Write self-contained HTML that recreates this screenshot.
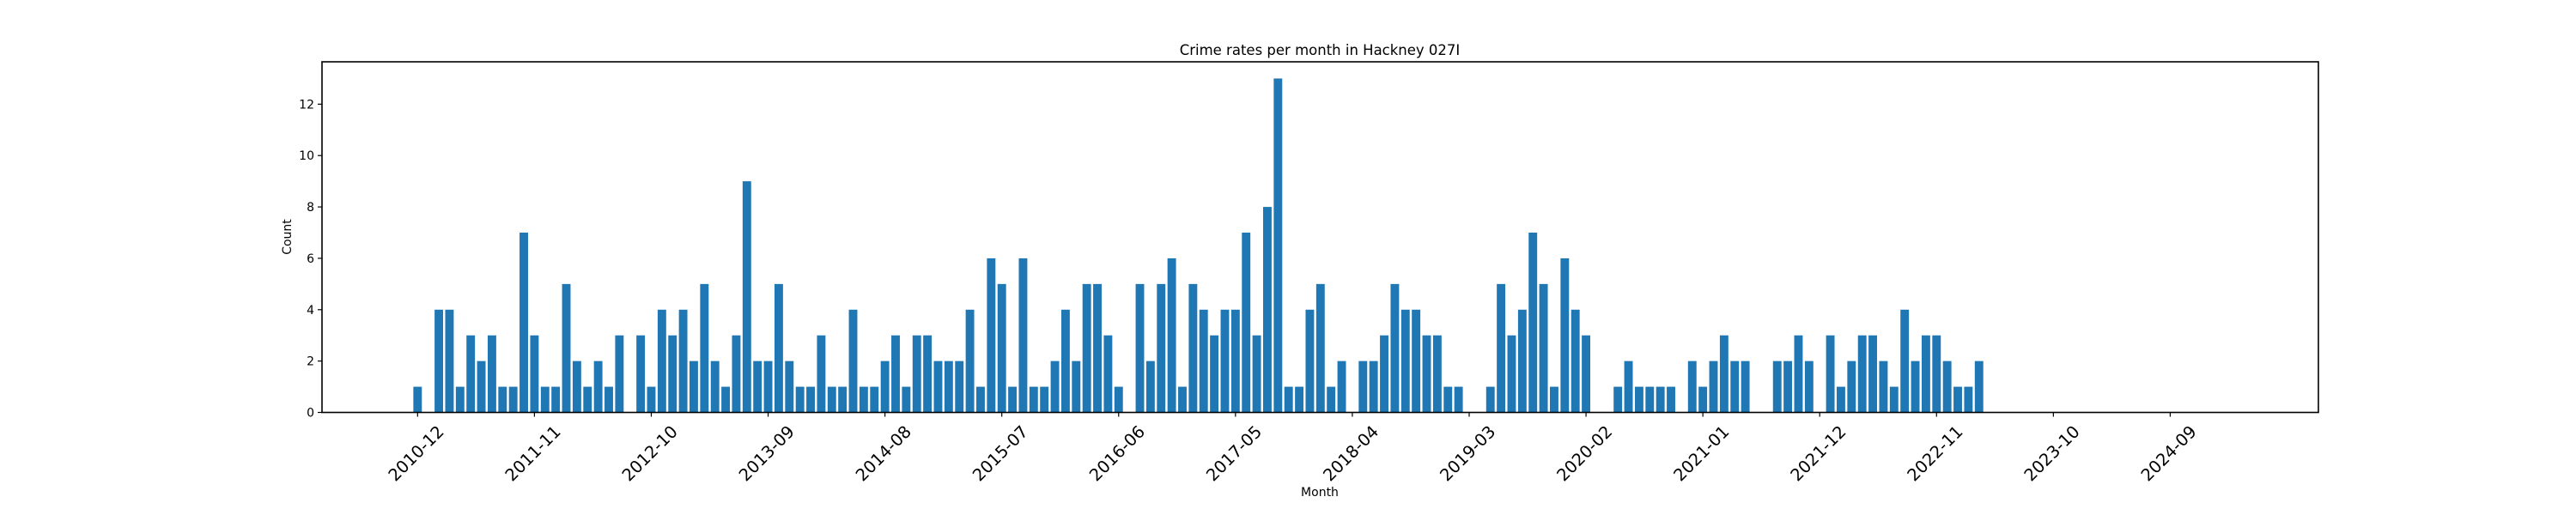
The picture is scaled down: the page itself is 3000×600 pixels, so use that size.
<!DOCTYPE html>
<html><head><meta charset="utf-8"><style>
html,body{margin:0;padding:0;background:#fff;}
svg{display:block;font-family:"DejaVu Sans","Liberation Sans",sans-serif;}
</style></head><body>
<svg id="chart" width="3000" height="600" viewBox="0 0 3000 600" xmlns="http://www.w3.org/2000/svg">
<rect width="3000" height="600" fill="#fff"/>
<text x="1537" y="64" font-size="16.5" text-anchor="middle" fill="#000">Crime rates per month in Hackney 027I</text>
<text x="1537" y="578" font-size="14" text-anchor="middle" fill="#000">Month</text>
<text x="0" y="0" font-size="14" text-anchor="middle" fill="#000" transform="translate(339,276) rotate(-90)">Count</text>
<g id="bars"></g>
<g id="axes"></g>
</svg>
<script>
// month index 0 = 2010-12
const counts = [1,0,4,4,1,3,2,3,1,1,7,3,1,1,5,2,1,2,1,3,0,3,1,4,3,4,2,5,2,1,3,9,2,2,5,2,1,1,3,1,1,4,1,1,2,3,1,3,3,2,2,2,4,1,6,5,1,6,1,1,2,4,2,5,5,3,1,0,5,2,5,6,1,5,4,3,4,4,7,3,8,13,1,1,4,5,1,2,0,2,2,3,5,4,4,3,3,1,1,0,0,1,5,3,4,7,5,1,6,4,3,0,0,1,2,1,1,1,1,0,2,1,2,3,2,2,0,0,2,2,3,2,0,3,1,2,3,3,2,1,4,2,3,3,2,1,1,2];
const tickLabels = ["2010-12","2011-11","2012-10","2013-09","2014-08","2015-07","2016-06","2017-05","2018-04","2019-03","2020-02","2021-01","2021-12","2022-11","2023-10","2024-09"];
const tickIndex = [0,11,22,33,44,55,66,77,88,99,110,121,132,143,154,165];
const yTicks = [0,2,4,6,8,10,12];

const NS = "http://www.w3.org/2000/svg";
const L = 375, R = 2700, T = 72, B = 480.5;
const xMin = -9.0, xMax = 178.95;
const yMax = 13.65;
function xScale(i){ return L + (i - xMin) / (xMax - xMin) * (R - L); }
function yScale(v){ return B - v / yMax * (B - T); }
const step = xScale(1) - xScale(0);
const barW = 0.8 * step;

const gb = document.getElementById('bars');
counts.forEach((v, i) => {
  if (v <= 0) return;
  const r = document.createElementNS(NS, 'rect');
  r.setAttribute('x', xScale(i) - barW / 2);
  r.setAttribute('y', yScale(v));
  r.setAttribute('width', barW);
  r.setAttribute('height', yScale(0) - yScale(v));
  r.setAttribute('fill', '#1f77b4');
  
  
  gb.appendChild(r);
});

const ga = document.getElementById('axes');
const frame = document.createElementNS(NS, 'rect');
frame.setAttribute('x', L); frame.setAttribute('y', T);
frame.setAttribute('width', R - L); frame.setAttribute('height', B - T);
frame.setAttribute('fill', 'none'); frame.setAttribute('stroke', '#000'); frame.setAttribute('stroke-width', '1.6');


ga.appendChild(frame);

yTicks.forEach(v => {
  const y = yScale(v);
  const ln = document.createElementNS(NS, 'line');
  ln.setAttribute('x1', L - 5); ln.setAttribute('x2', L);
  ln.setAttribute('y1', y); ln.setAttribute('y2', y);
  ln.setAttribute('stroke', '#000'); ln.setAttribute('stroke-width', '1.2');
  
  
  ga.appendChild(ln);
  const t = document.createElementNS(NS, 'text');
  t.setAttribute('x', L - 9); t.setAttribute('y', y + 5);
  t.setAttribute('font-size', '14'); t.setAttribute('text-anchor', 'end');
  t.textContent = v;
  
  
  ga.appendChild(t);
});

tickIndex.forEach((idx, k) => {
  const x = xScale(idx);
  const ln = document.createElementNS(NS, 'line');
  ln.setAttribute('x1', x); ln.setAttribute('x2', x);
  ln.setAttribute('y1', B); ln.setAttribute('y2', B + 5);
  ln.setAttribute('stroke', '#000'); ln.setAttribute('stroke-width', '1.2');
  
  
  ga.appendChild(ln);
  const t = document.createElementNS(NS, 'text');
  t.setAttribute('x', 0); t.setAttribute('y', 7);
  t.setAttribute('font-size', '19.5'); t.setAttribute('text-anchor', 'middle');
  t.setAttribute('transform', 'translate(' + (x - 2) + ',528) rotate(-45)');
  t.textContent = tickLabels[k];
  
  
  ga.appendChild(t);
});
</script>
</body></html>
